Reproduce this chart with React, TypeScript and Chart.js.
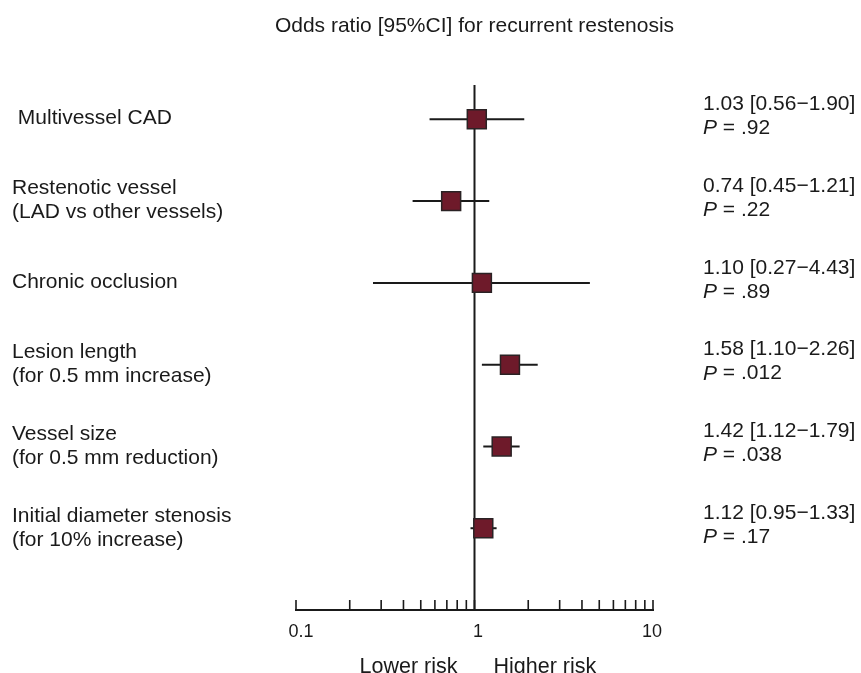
import React, { useEffect, useRef } from "react";
import { Chart, registerables } from "chart.js";

Chart.register(...registerables);

const titleText = "Odds ratio [95%CI] for recurrent restenosis";
const labelLine1 = [" Multivessel CAD", "Restenotic vessel", "Chronic occlusion", "Lesion length", "Vessel size", "Initial diameter stenosis"];
const labelLine2 = ["", "(LAD vs other vessels)", "", "(for 0.5 mm increase)", "(for 0.5 mm reduction)", "(for 10% increase)"];
const oddsRatio = [1.03, 0.74, 1.10, 1.58, 1.42, 1.12];
const ciLow = [0.56, 0.45, 0.27, 1.10, 1.12, 0.95];
const ciHigh = [1.90, 1.21, 4.43, 2.26, 1.79, 1.33];
const pValues = [".92", ".22", ".89", ".012", ".038", ".17"];
const majorTicks = [0.1, 1, 10];
const tickLabels = ["0.1", "1", "10"];
const lowerText = "Lower risk";
const higherText = "Higher risk";

const FONT = "'Liberation Sans', Arial, Helvetica, sans-serif";
const INK = "#1a1a1a";

const textPlugin = {
  id: "forestText",
  afterDraw(chart: any) {
    const ctx = chart.ctx as CanvasRenderingContext2D;
    const xs = chart.scales.x;
    const ys = chart.scales.y;
    const area = chart.chartArea;
    const x1 = xs.getPixelForValue(1);
    ctx.save();
    ctx.fillStyle = INK;
    ctx.strokeStyle = INK;

    // title
    ctx.font = `21px ${FONT}`;
    ctx.textAlign = "center";
    ctx.textBaseline = "middle";
    ctx.fillText(titleText, x1, 26);

    // left labels and right annotations
    oddsRatio.forEach((v, i) => {
      const yc = ys.getPixelForValue(i);
      ctx.font = `21px ${FONT}`;
      ctx.textAlign = "left";
      ctx.textBaseline = "middle";
      if (labelLine2[i]) {
        ctx.fillText(labelLine1[i], 12, yc - 12.5);
        ctx.fillText(labelLine2[i], 12, yc + 11.5);
      } else {
        ctx.fillText(labelLine1[i], 12, yc - 1);
      }
      const ax = 703;
      ctx.fillText(`${v.toFixed(2)} [${ciLow[i].toFixed(2)}\u2212${ciHigh[i].toFixed(2)}]`, ax, yc - 15);
      ctx.font = `italic 21px ${FONT}`;
      ctx.fillText("P", ax, yc + 9);
      const pw = ctx.measureText("P").width;
      ctx.font = `21px ${FONT}`;
      ctx.fillText(` = ${pValues[i]}`, ax + pw, yc + 9);
    });

    // x axis
    const by = area.bottom;
    const left = xs.getPixelForValue(0.1);
    const right = xs.getPixelForValue(10);
    ctx.lineWidth = 2;
    ctx.beginPath();
    ctx.moveTo(left - 1, by);
    ctx.lineTo(right + 1, by);
    ctx.stroke();
    ctx.lineWidth = 1.6;
    const ticks: number[] = [];
    [0.1, 1].forEach((d) => {
      for (let m = 1; m <= 9; m++) ticks.push(d * m);
    });
    ticks.push(10);
    ctx.beginPath();
    ticks.forEach((t) => {
      const px = xs.getPixelForValue(t);
      ctx.moveTo(px, by);
      ctx.lineTo(px, by - 10);
    });
    ctx.stroke();

    ctx.font = `18px ${FONT}`;
    ctx.textAlign = "center";
    ctx.textBaseline = "middle";
    const labelShift = [5, 3.5, -1];
    majorTicks.forEach((t, k) => {
      ctx.fillText(tickLabels[k], xs.getPixelForValue(t) + labelShift[k], by + 22);
    });

    ctx.font = `21.5px ${FONT}`;
    ctx.textBaseline = "alphabetic";
    ctx.textAlign = "right";
    ctx.fillText(lowerText, x1 - 17, 673);
    ctx.textAlign = "left";
    ctx.fillText(higherText, x1 + 19, 673);
    ctx.restore();
  },
};

export default function App() {
  const canvasRef = useRef<HTMLCanvasElement | null>(null);

  useEffect(() => {
    const canvas = canvasRef.current;
    if (!canvas) return;
    const yMin = -0.42;
    const yMax = 6.0;
    const ciSets = oddsRatio.map((_, i) => ({
      type: "line" as const,
      data: [
        { x: ciLow[i], y: i },
        { x: ciHigh[i], y: i },
      ],
      borderColor: INK,
      borderWidth: 2,
      pointRadius: 0,
      showLine: true,
      order: 2,
    }));
    const refLine = {
      type: "line" as const,
      data: [
        { x: 1, y: yMin },
        { x: 1, y: yMax },
      ],
      borderColor: INK,
      borderWidth: 2,
      pointRadius: 0,
      showLine: true,
      order: 3,
    };
    const squares = {
      type: "scatter" as const,
      data: oddsRatio.map((v, i) => ({ x: v, y: i })),
      pointStyle: "rect",
      pointRadius: 13.4,
      backgroundColor: "#6e1a2a",
      borderColor: "#2a2224",
      borderWidth: 1.5,
      order: 0,
    };
    const chart = new Chart(canvas, {
      type: "scatter",
      data: { datasets: [...ciSets, refLine, squares] as any },
      options: {
        animation: false,
        responsive: false,
        maintainAspectRatio: false,
        devicePixelRatio: 1,
        layout: { padding: { left: 296, right: 208, top: 85, bottom: 63 } },
        plugins: { legend: { display: false }, tooltip: { enabled: false }, title: { display: false } },
        scales: {
          x: { type: "logarithmic", min: 0.1, max: 10, display: false },
          y: { type: "linear", min: yMin, max: yMax, reverse: true, display: false },
        },
      },
      plugins: [textPlugin],
    });
    return () => chart.destroy();
  }, []);

  return (
    <div style={{ position: "fixed", left: 0, top: 0, width: 861, height: 673, background: "#fff" }}>
      <canvas ref={canvasRef} width={861} height={673} style={{ width: 861, height: 673, display: "block" }} />
    </div>
  );
}
